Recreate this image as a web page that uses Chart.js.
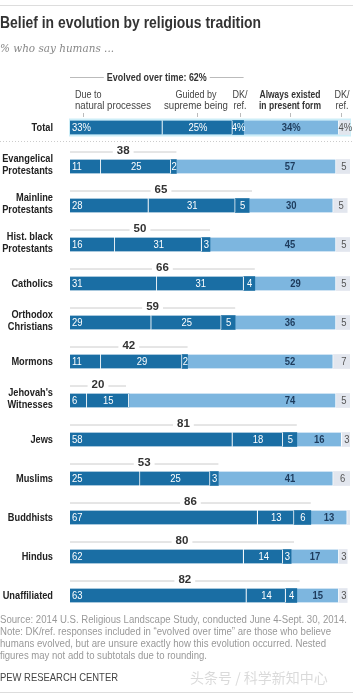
<!DOCTYPE html>
<html>
<head>
<meta charset="utf-8">
<script src="https://cdn.jsdelivr.net/npm/chart.js@4.4.1/dist/chart.umd.min.js"></script>
<style>
  html, body { margin: 0; padding: 0; background: #fff; }
  #wrap { width: 353px; height: 700px; position: relative; }
</style>
</head>
<body>
<div id="wrap"><canvas id="myChart"></canvas></div>
<script>
// rows, top to bottom
var categories = [["Total"], ["Evangelical", "Protestants"], ["Mainline", "Protestants"],
  ["Hist. black", "Protestants"], ["Catholics"], ["Orthodox", "Christians"], ["Mormons"],
  ["Jehovah's", "Witnesses"], ["Jews"], ["Muslims"], ["Buddhists"], ["Hindus"], ["Unaffiliated"]];

// % who say humans ...
var naturalProc = [33, 11, 28, 16, 31, 29, 11, 6, 58, 25, 67, 62, 63];
var supremeBeing = [25, 25, 31, 31, 31, 25, 29, 15, 18, 25, 13, 14, 14];
var dkEvolved = [4, 2, 5, 3, 4, 5, 2, 0, 5, 3, 6, 3, 4];
var alwaysExisted = [34, 57, 30, 45, 29, 36, 52, 74, 16, 41, 13, 17, 15];
var dkRef = [4, 5, 5, 5, 5, 5, 7, 5, 3, 6, 1, 3, 3];
var evolvedTotal = [62, 38, 65, 50, 66, 59, 42, 20, 81, 53, 86, 80, 82];

var DARK = "#1a6ea4";
var LIGHT = "#7db6df";
var GREY = "#e2e6ee";
var SANS = '"Liberation Sans", Arial, sans-serif';
var ALWAYS_COL = 290; // x of the "Always existed" column

// draw text squeezed a bit, the original uses a condensed face
function cond(c, txt, x, y, squeeze) {
  var w = c.measureText(txt).width;
  c.fillText(txt, x, y, w * (squeeze || 0.86));
}

var drawText = {
  id: "drawText",
  beforeDatasetsDraw: function (chart) {
    var c = chart.ctx;
    var yc = chart.scales.y.getPixelForValue(0);
    // highlight behind the Total bar
    c.save();
    c.fillStyle = "#cdeef8";
    c.fillRect(chart.chartArea.left - 1, yc - 9, chart.chartArea.right - chart.chartArea.left + 2, 18);
    c.restore();
  },
  afterDatasetsDraw: function (chart) {
    var c = chart.ctx;
    var xs = chart.scales.x;
    var ys = chart.scales.y;
    var left = chart.chartArea.left;
    c.save();

    // title + subtitle
    c.fillStyle = "#333";
    c.textBaseline = "alphabetic";
    c.textAlign = "left";
    c.font = "bold 16px " + SANS;
    c.fillText("Belief in evolution by religious tradition", 0, 28, 261);
    c.fillStyle = "#888";
    c.font = "italic 11px 'DejaVu Serif', serif";
    c.fillText("% who say humans ...", 0, 52, 114);

    // top rule
    c.strokeStyle = "#ddd";
    c.lineWidth = 1;
    c.beginPath(); c.moveTo(0, 5.5); c.lineTo(353, 5.5); c.stroke();

    // column headers
    c.fillStyle = "#333";
    c.font = "bold 10.5px " + SANS;
    c.textAlign = "center";
    var evTxt = "Evolved over time: " + evolvedTotal[0] + "%";
    var evEnd = xs.getPixelForValue(evolvedTotal[0]);
    var evMid = (left + evEnd) / 2;
    c.fillText(evTxt, evMid, 81, 100);
    var tw = 100;
    c.strokeStyle = "#bbb";
    c.beginPath();
    c.moveTo(left, 77.5); c.lineTo(evMid - tw / 2 - 3, 77.5);
    c.moveTo(evMid + tw / 2 + 3, 77.5); c.lineTo(evEnd, 77.5);
    c.stroke();

    c.font = "10.5px " + SANS;
    c.fillStyle = "#444";
    c.textAlign = "left";
    cond(c, "Due to", 75, 98);
    c.fillText("natural processes", 75, 109, 76);
    c.textAlign = "center";
    cond(c, "Guided by", 196, 98);
    c.fillText("supreme being", 196, 109, 64);
    cond(c, "DK/", 240, 98);
    cond(c, "ref.", 240, 109);
    cond(c, "DK/", 342, 98);
    cond(c, "ref.", 342, 109);
    c.font = "bold 10.5px " + SANS;
    c.fillStyle = "#333";
    c.fillText("Always existed", ALWAYS_COL, 98, 61);
    c.fillText("in present form", ALWAYS_COL, 109, 62);
    c.strokeStyle = "#bbb";
    c.beginPath();
    [83, 197, 240, 290, 341].forEach(function (tx) {
      c.moveTo(tx + 0.5, 113); c.lineTo(tx + 0.5, 117);
    });
    c.stroke();

    // dotted rule under Total
    c.strokeStyle = "#ccc";
    c.setLineDash([1, 2]);
    c.beginPath(); c.moveTo(0, 141.5); c.lineTo(353, 141.5); c.stroke();
    c.setLineDash([]);

    var sets = chart.data.datasets;
    for (var j = 0; j < categories.length; j++) {
      var yc = ys.getPixelForValue(j);
      var pct = j === 0 ? "%" : "";

      // row label
      c.fillStyle = "#222";
      c.font = "bold 11px " + SANS;
      c.textAlign = "right";
      c.textBaseline = "middle";
      var lines = categories[j];
      for (var k = 0; k < lines.length; k++) {
        cond(c, lines[k], 53, yc + (k - (lines.length - 1) / 2) * 12 - (lines.length > 1 ? 2 : 0), 0.84);
      }

      // evolved subtotal line + number
      if (j > 0) {
        var endX = xs.getPixelForValue(evolvedTotal[j]);
        var mid = (left + endX) / 2;
        var ly = yc - 14.5;
        c.font = "bold 11.5px " + SANS;
        c.textAlign = "center";
        c.fillStyle = "#333";
        c.fillText(String(evolvedTotal[j]), mid, ly - 1);
        var w = c.measureText(String(evolvedTotal[j])).width;
        c.strokeStyle = "#ccc";
        c.beginPath();
        c.moveTo(left, ly); c.lineTo(mid - w / 2 - 4, ly);
        c.moveTo(mid + w / 2 + 4, ly); c.lineTo(endX, ly);
        c.stroke();
      }

      // segment values
      for (var d = 0; d < sets.length; d++) {
        var v = sets[d].data[j];
        if (v < 2) continue;
        var bar = chart.getDatasetMeta(d).data[j];
        var p = bar.getProps(["x", "base"], true);
        var cx = (p.x + p.base) / 2;
        c.textBaseline = "middle";
        if (d < 3) {
          c.fillStyle = "#fff";
          c.font = "11px " + SANS;
          if (d === 0) {
            c.textAlign = "left";
            cond(c, v + pct, p.base + 2, yc + 0.5);
          } else {
            c.textAlign = "center";
            cond(c, v + pct, cx + 0.5, yc + 0.5);
          }
        } else if (d === 3) {
          c.fillStyle = "#1d3b5c";
          c.font = "bold 11px " + SANS;
          c.textAlign = "center";
          cond(c, v + pct, Math.max(cx, ALWAYS_COL), yc + 0.5);
        } else {
          c.fillStyle = "#555";
          c.font = "11px " + SANS;
          c.textAlign = "center";
          cond(c, v + pct, cx + 1, yc + 0.5);
        }
      }
    }

    // notes
    c.textBaseline = "alphabetic";
    c.textAlign = "left";
    c.fillStyle = "#999";
    c.font = "10px " + SANS;
    c.fillText("Source: 2014 U.S. Religious Landscape Study, conducted June 4-Sept. 30, 2014.", 0, 623, 347);
    c.fillText("Note: DK/ref. responses included in \u201cevolved over time\u201d are those who believe", 0, 635, 331);
    c.fillText("humans evolved, but are unsure exactly how this evolution occurred. Nested", 0, 647, 326);
    c.fillText("figures may not add to subtotals due to rounding.", 0, 659, 207);
    c.fillStyle = "#444";
    c.font = "10.5px " + SANS;
    c.fillText("PEW RESEARCH CENTER", 0, 681, 118);
    c.fillStyle = "rgba(150,150,150,0.35)";
    c.font = "14px 'Noto Sans CJK SC', sans-serif";
    c.fillText("头条号 / 科学新知中心", 190, 683, 145);
    c.strokeStyle = "#ddd";
    c.beginPath(); c.moveTo(0, 692.5); c.lineTo(353, 692.5); c.stroke();

    c.restore();
  }
};

var sepBorder = { top: 0, bottom: 0, left: 0, right: 1 };
var ctx = document.getElementById("myChart");
var myChart = new Chart(ctx, {
  type: "bar",
  data: {
    labels: categories,
    datasets: [
      { label: "Due to natural processes", data: naturalProc, backgroundColor: DARK, borderColor: "#fff", borderWidth: sepBorder, borderSkipped: false },
      { label: "Guided by supreme being", data: supremeBeing, backgroundColor: DARK, borderColor: "#fff", borderWidth: sepBorder, borderSkipped: false },
      { label: "DK/ref. (evolved)", data: dkEvolved, backgroundColor: DARK, borderWidth: 0 },
      { label: "Always existed in present form", data: alwaysExisted, backgroundColor: LIGHT, borderColor: "#fff", borderWidth: sepBorder, borderSkipped: false },
      { label: "DK/ref.", data: dkRef, backgroundColor: GREY, borderWidth: 0 }
    ]
  },
  options: {
    indexAxis: "y",
    responsive: true,
    maintainAspectRatio: false,
    animation: false,
    barThickness: 14,
    layout: { padding: { left: 70, right: 3, top: 108, bottom: 85 } },
    plugins: { legend: { display: false }, tooltip: { enabled: false } },
    scales: {
      x: { stacked: true, min: 0, max: 100, display: false },
      y: { stacked: true, display: false }
    }
  },
  plugins: [drawText]
});
</script>
</body>
</html>
